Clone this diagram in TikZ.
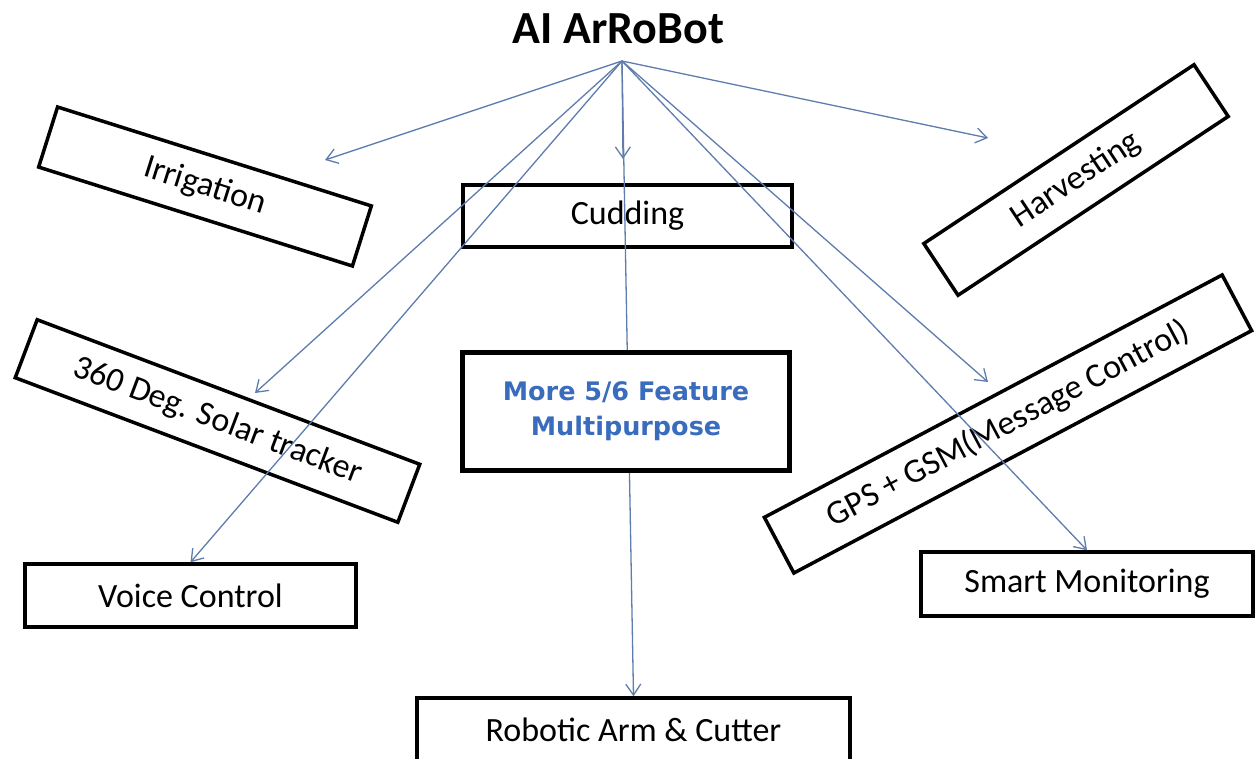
\documentclass[tikz,border=0pt]{standalone}
\usepackage{fontspec}
\setmainfont{Carlito}
\newfontfamily\featfont{DejaVu Sans}
\usetikzlibrary{arrows.meta,positioning}
\definecolor{linkblue}{RGB}{94,124,172}
\definecolor{featblue}{RGB}{58,108,190}

\tikzset{
  box/.style={draw, line width=3.5pt, inner sep=0pt, minimum height=63pt,
    font=\fontsize{34}{40}\selectfont},
  link/.style={linkblue, line width=1.3pt, -{Straight Barb[length=11pt,width=15pt]}},
}

\begin{document}
\begin{tikzpicture}[x=1pt,y=-1pt]
        \clip (0,0) rectangle (1257,759);
        % title and the point where all the links start
        \node[font=\bfseries\fontsize{46}{52}\selectfont] (title) at (618.5,29) {AI ArRoBot};
        \coordinate (hub) at (622,61);
        % feature boxes
        \node[box, minimum width=329pt, rotate=-17.5] (irrigation) at (205,186.5) {Irrigation};
        \node[box, minimum width=329pt, minimum height=62pt] (cudding) at (627.5,216) {Cudding};
        \node[box, minimum width=324pt, minimum height=62pt, rotate=33.5] (harvesting) at (1076,180) {Harvesting};
        \node[box, minimum width=409pt, minimum height=62pt, rotate=-20.7] (solar) at (217.5,421) {360 Deg. Solar tracker};
        \node[box, minimum width=518pt, rotate=27.9] (gps) at (1008,424) {GPS + GSM(Message Control)};
        \node[box, minimum width=331pt] (voice) at (190.5,595.5) {Voice Control};
        \node[box, minimum width=332pt, minimum height=64pt] (smart) at (1087,584) {Smart Monitoring};
        \node[box, minimum width=433pt, minimum height=64pt] (robot) at (633.5,730) {Robotic Arm \& Cutter};
        % loose arrow ends
        \coordinate (irrigation tip) at (325,160);
        \coordinate (cudding tip) at (623,159);
        \coordinate (harvesting tip) at (988,138);
        \coordinate (solar tip) at (255,393);
        \coordinate (gps tip) at (988,382);
        % links
        \draw[link] (hub) -- (irrigation tip);
        \draw[link] (hub) -- (cudding tip);
        \draw[link] (hub) -- (harvesting tip);
        \draw[link] (hub) -- (solar tip);
        \draw[link] (hub) -- (voice.north);
        \draw[link] (hub) -- (gps tip);
        \draw[link] (hub) -- (smart.north);
        \draw[link] (hub) -- (robot.north);
        % centre box sits on top of the long link
        \node[box, line width=4.5pt, fill=white, minimum width=327pt, minimum height=118pt,
              align=center, text=featblue, font=\featfont\bfseries\fontsize{25.5}{35}\selectfont]
              (more) at (626,411.5) {More 5/6 Feature\\Multipurpose};
\end{tikzpicture}
\end{document}
